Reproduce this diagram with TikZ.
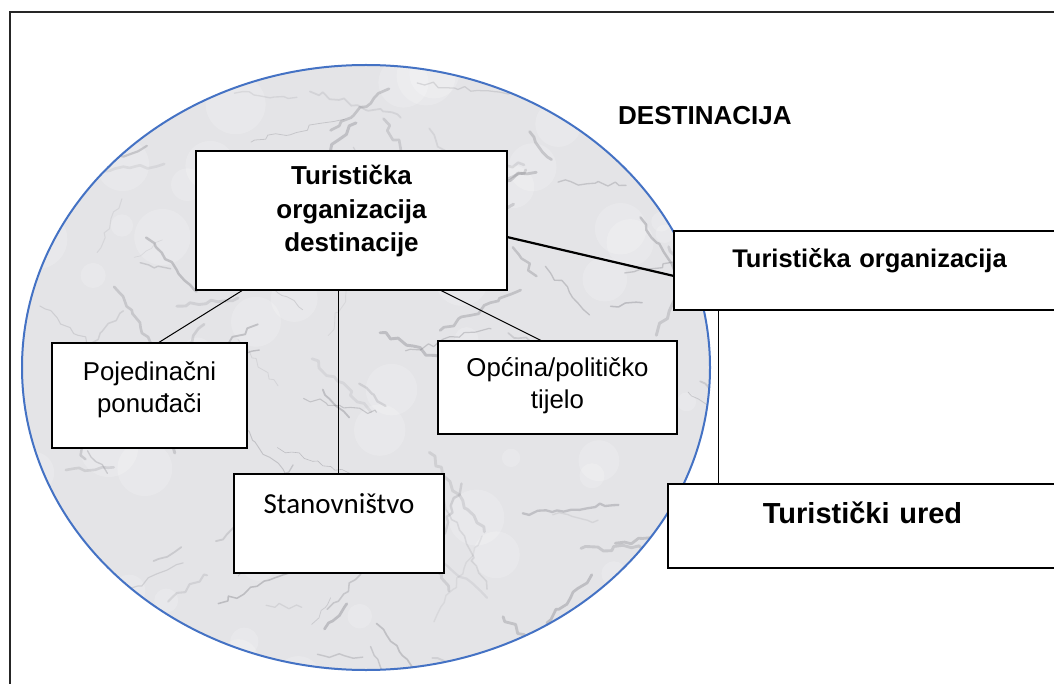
\documentclass[tikz,border=0pt]{standalone}
\usepackage{fontspec}
\setmainfont{Liberation Sans}
\newfontfamily\calibrifont{Carlito}
\usetikzlibrary{calc,decorations.pathmorphing}
\definecolor{ellblue}{RGB}{68,114,196}
\definecolor{marble}{RGB}{228,228,231}
\definecolor{vein}{RGB}{115,115,122}
\begin{document}
\begin{tikzpicture}[x=1pt,y=-1pt,
  box/.style={draw=black, line width=1.1pt, fill=white, inner sep=0pt, outer sep=0pt, anchor=north west, align=center},
  link/.style={draw=black, line width=1pt},
  bfa/.style={font=\bfseries\fontsize{26}{33.5}\selectfont},
  bfb/.style={font=\bfseries\fontsize{25.5}{30}\selectfont},
  bfc/.style={font=\bfseries\fontsize{29}{34}\selectfont},
  rf/.style={font=\fontsize{25.8}{32}\selectfont},
  cf/.style={font=\calibrifont\fontsize{29}{34}\selectfont},
  veinline/.style={vein, line cap=round, line join=round, decorate, decoration={random steps, segment length=7pt, amplitude=3pt}}]
\useasboundingbox (0,0) rectangle (1054,684);
\clip (0,0) rectangle (1054,684);
\draw[line width=1.4pt, draw=black!85] (10,12) rectangle (1090,720);
% marble ellipse
\fill[marble] (366,367.5) ellipse [x radius=344pt, y radius=302.5pt];
\begin{scope}
  \clip (366,367.5) ellipse [x radius=344pt, y radius=302.5pt];
  \pgfmathsetseed{17}
  \foreach \i in {1,...,60}{
    \pgfmathsetmacro\xa{20+700*rnd}
    \pgfmathsetmacro\ya{60+620*rnd}
    \pgfmathsetmacro\rr{8+22*rnd}
    \fill[white, opacity=0.18] (\xa,\ya) circle [radius=\rr pt];
  }
  \foreach \i in {1,...,130}{
    \pgfmathsetmacro\xa{20+700*rnd}
    \pgfmathsetmacro\ya{60+620*rnd}
    \pgfmathsetmacro\ang{-70+140*rnd}
    \pgfmathsetmacro\len{25+80*rnd}
    \pgfmathsetmacro\op{0.10+0.25*rnd}
    \pgfmathsetmacro\lw{0.6+2.4*rnd}
    \draw[veinline, opacity=\op, line width=\lw pt] (\xa,\ya) -- ++(\ang:\len);
  }
\end{scope}
\draw[ellblue, line width=2pt] (366,367.5) ellipse [x radius=344pt, y radius=302.5pt];
% title
\node[anchor=base west, inner sep=0pt, font=\bfseries\fontsize{26}{30}\selectfont] (dest) at (618,125) {DESTINACIJA};
% boxes
\node[box, bfa, text width=311pt, text height=34pt, text depth=105pt] (tod) at (196,151) {Turistička\\organizacija\\destinacije};
\node[box, bfb, text width=391pt, text height=37pt, text depth=42pt] (to) at (674,231) {Turistička organizacija};
\node[box, bfc, text width=389pt, text height=39pt, text depth=45pt] (tu) at (668,484) {Turistički ured};
\node[box, rf, line width=2pt, text width=195pt, text height=37pt, text depth=68pt] (pp) at (52,343) {Pojedinačni\\ponuđači};
\node[box, rf, text width=239pt, text height=35pt, text depth=58pt] (op) at (438,341) {Općina/političko\\tijelo};
\node[box, cf, text width=210pt, text height=39pt, text depth=60pt] (st) at (234,474) {Stanovništvo};
% connectors
\draw[link] ($(tod.south west)+(47,0)$) -- ($(pp.north west)+(106,0)$);
\draw[link] ($(tod.south west)+(142,0)$) -- ($(st.north west)+(104,0)$);
\draw[link] ($(tod.south west)+(244,0)$) -- ($(op.north west)+(104,0)$);
\draw[link, line width=2.2pt] ($(tod.north east)+(0,86)$) -- ($(to.north west)+(0,45)$);
\draw[link] ($(to.south west)+(44,0)$) -- ($(tu.north west)+(50,0)$);
\end{tikzpicture}
\end{document}
